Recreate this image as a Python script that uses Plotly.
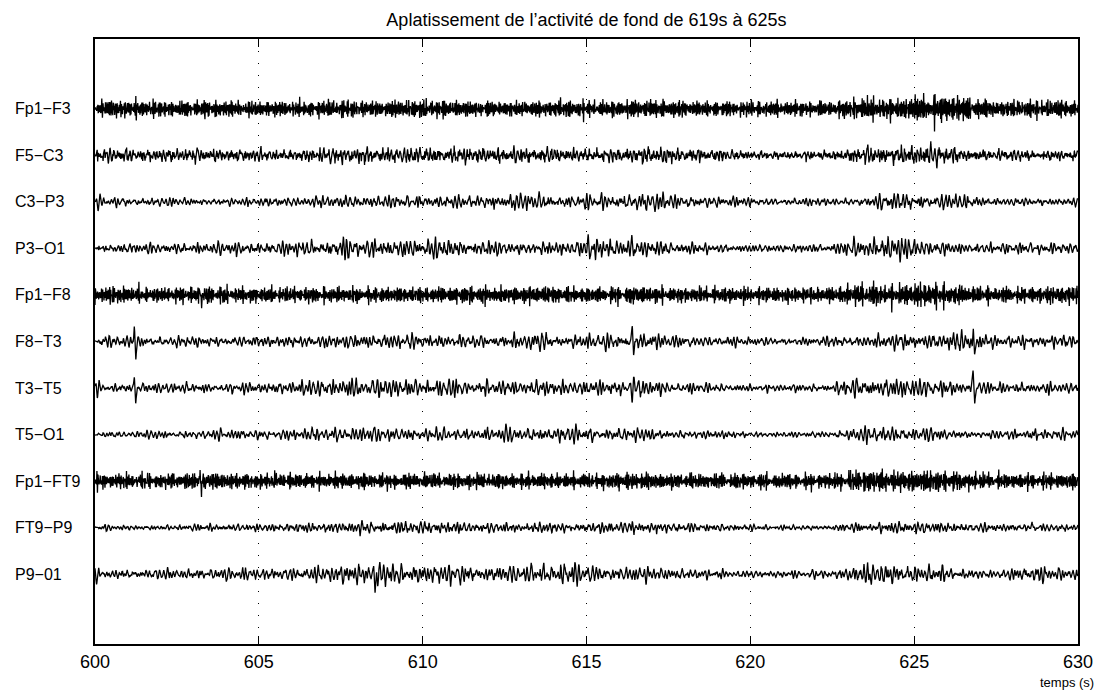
import numpy as np
import plotly.graph_objects as go

# ---------------- data ----------------
CHANNELS = ["Fp1−F3", "F5−C3", "C3−P3", "P3−O1", "Fp1−F8", "F8−T3",
            "T3−T5", "T5−O1", "Fp1−FT9", "FT9−P9", "P9−01"]

TITLE = "Aplatissement de l’activité de fond de 619s à 625s"
X_LABEL = "temps (s)"
T_START, T_END = 600, 630
X_TICKS = [600, 605, 610, 615, 620, 625, 630]
FS = 256  # samples per second

# half-amplitude of each trace (pixels), one value per second 600..629
ENV_FP1_F3 = [7, 7, 6, 7, 6, 6, 6, 7, 6, 7, 7, 6, 6, 6, 7, 6, 7, 7, 6, 6, 6, 6, 6, 9, 8, 11, 10, 6, 7, 7]
ENV_F5_C3 = [5, 5, 5, 5, 5, 4, 5, 6, 6, 6, 6, 6, 6, 6, 5, 5, 6, 6, 5, 4, 3, 3, 4, 6, 7, 8, 5, 4, 4, 4]
ENV_C3_P3 = [4, 4, 3, 3, 3, 4, 4, 5, 5, 5, 5, 5, 6, 7, 5, 6, 8, 6, 5, 4, 3, 3, 3, 4, 7, 6, 6, 3, 3, 3]
ENV_P3_O1 = [4, 4, 4, 5, 5, 5, 6, 8, 7, 7, 8, 6, 5, 5, 5, 9, 7, 6, 4, 3, 3, 3, 4, 8, 10, 6, 4, 4, 5, 4]
ENV_FP1_F8 = [7, 6, 6, 7, 6, 6, 6, 6, 6, 6, 6, 7, 6, 7, 6, 6, 7, 6, 6, 6, 6, 6, 6, 9, 8, 10, 7, 6, 6, 7]
ENV_F8_T3 = [4, 5, 4, 4, 4, 4, 5, 5, 6, 6, 5, 5, 5, 7, 5, 6, 8, 5, 4, 4, 3, 3, 4, 5, 6, 6, 8, 5, 5, 5]
ENV_T3_T5 = [4, 4, 4, 4, 4, 5, 6, 8, 8, 7, 8, 6, 6, 6, 6, 6, 8, 5, 4, 3, 3, 3, 4, 8, 8, 7, 6, 4, 5, 4]
ENV_T5_O1 = [3, 3, 3, 4, 4, 4, 5, 6, 6, 5, 5, 5, 6, 6, 6, 6, 5, 4, 3, 3, 2, 2, 3, 6, 7, 5, 3, 3, 5, 4]
ENV_FP1_FT9 = [6, 6, 6, 7, 6, 6, 6, 6, 6, 6, 6, 6, 6, 6, 6, 6, 7, 6, 6, 6, 6, 6, 6, 9, 8, 9, 7, 6, 6, 6]
ENV_FT9_P9 = [2, 2, 2, 3, 3, 3, 4, 4, 5, 5, 5, 4, 4, 4, 4, 4, 5, 4, 3, 3, 2, 2, 2, 4, 5, 4, 4, 3, 3, 3]
ENV_P9_01 = [4, 4, 4, 5, 5, 5, 5, 8, 9, 8, 8, 7, 6, 8, 9, 6, 6, 5, 4, 3, 3, 3, 4, 8, 8, 7, 4, 3, 7, 5]

# share of fast (beta / muscle) activity in each channel
FAST_SHARE = [0.85, 0.4, 0.18, 0.18, 0.85, 0.18, 0.15, 0.15, 0.8, 0.22, 0.18]

# sharp transients: channel index, time (s), upward and downward deflection (px)
SPIKE_CHANNEL = [5, 6, 5, 6, 10, 10, 3, 9, 8, 4, 6, 5, 3]
SPIKE_TIME = [601.2, 601.2, 626.8, 626.8, 608.5, 613.7, 615.05, 628.6, 603.2, 603.2, 616.6, 616.4, 607.6]
SPIKE_UP = [18, 12, 13, 20, 6, 12, 9, 7, 8, 4, 8, 7, 8]
SPIKE_DOWN = [17, 15, 19, 16, 17, 5, 10, 3, 10, 9, 6, 6, 8]

# oscillation bands used to draw the fine texture of the traces (Hz, incommensurate)
SLOW_FREQS = [3.137, 4.719, 5.923, 6.841, 7.577, 8.263, 8.951, 9.683, 10.617, 11.329, 12.571, 14.233]
FAST_FREQS = [16.913, 19.437, 22.741, 25.289, 28.853, 31.937, 35.611, 39.127, 43.709]

ENVELOPES = [ENV_FP1_F3, ENV_F5_C3, ENV_C3_P3, ENV_P3_O1, ENV_FP1_F8, ENV_F8_T3,
             ENV_T3_T5, ENV_T5_O1, ENV_FP1_FT9, ENV_FT9_P9, ENV_P9_01]

# ---------------- geometry ----------------
# the page body adds an 8 px offset, so the figure is 8 px smaller and margins shift
FIG_W, FIG_H = 1100, 683
M_L, M_R, M_T, M_B = 87, 30, 31, 47
PLOT_H = FIG_H - M_T - M_B
Y_RANGE = [-11.5, 1.5]
PX_PER_UNIT = PLOT_H / (Y_RANGE[1] - Y_RANGE[0])

t = T_START + np.arange(0, (T_END - T_START) * FS + 1) / FS
tt = t - T_START
env_t = np.arange(T_START, T_END) + 0.5

fig = go.Figure()
for c, name in enumerate(CHANNELS):
    slow = np.zeros_like(t)
    for k, f in enumerate(SLOW_FREQS):
        fk = f * (1 + 0.0137 * ((c * 7 + k * 3) % 5 - 2))
        ph = (k * 2.399 + c * 1.618 * (k + 1)) % (2 * np.pi)
        wk = 1.0 + 0.3 * ((k + c) % 3) + (0.6 if 6.5 < f < 11 else 0.0)
        slow += np.sin(2 * np.pi * fk * tt + ph) * wk
    fast = np.zeros_like(t)
    for k, f in enumerate(FAST_FREQS):
        fk = f * (1 + 0.0113 * ((c * 5 + k * 2) % 7 - 3))
        ph = (k * 1.913 + c * 2.718 * (k + 1)) % (2 * np.pi)
        fast += np.sin(2 * np.pi * fk * tt + ph)
    slow /= slow.std()
    fast /= fast.std()
    w = FAST_SHARE[c]
    sig = (1 - w) * slow + w * fast
    sig /= sig.std()
    env = np.interp(t, env_t, ENVELOPES[c])
    sig = sig * env / 1.8
    for ch, ts, up, dn in zip(SPIKE_CHANNEL, SPIKE_TIME, SPIKE_UP, SPIKE_DOWN):
        if ch == c:
            sig += up * np.exp(-((t - ts) / 0.018) ** 2)
            sig -= dn * np.exp(-((t - ts - 0.045) / 0.022) ** 2)
    y = -c + sig / PX_PER_UNIT
    fig.add_trace(go.Scatter(x=t, y=y, mode="lines", name=name,
                             line=dict(color="black", width=1.3),
                             hoverinfo="skip", showlegend=False))

FONT = "Liberation Sans, Arial, Helvetica, sans-serif"
PLOT_W = FIG_W - M_L - M_R

annotations = []
for c, name in enumerate(CHANNELS):
    annotations.append(dict(text=name, xref="paper", yref="y", x=(5.3 - M_L) / PLOT_W, y=-c,
                            xanchor="left", yanchor="middle", showarrow=False,
                            font=dict(family=FONT, size=16, color="black")))
annotations.append(dict(text=X_LABEL, xref="paper", yref="paper",
                        x=(1059 - M_L) / PLOT_W, y=-(674 - (FIG_H - M_B)) / PLOT_H,
                        xanchor="center", yanchor="middle", showarrow=False,
                        font=dict(family=FONT, size=13, color="black")))

fig.update_layout(
    width=FIG_W, height=FIG_H,
    margin=dict(l=M_L, r=M_R, t=M_T, b=M_B),
    paper_bgcolor="white", plot_bgcolor="white",
    title=dict(text=TITLE, x=(M_L + PLOT_W / 2) / FIG_W, xanchor="center",
               y=1 - 12 / FIG_H, yanchor="middle",
               font=dict(family=FONT, size=18, color="black")),
    annotations=annotations,
    xaxis=dict(range=[T_START, T_END], tickvals=X_TICKS, ticktext=[str(v) for v in X_TICKS],
               ticks="inside", ticklen=8, tickwidth=1, tickcolor="black",
               showline=True, linewidth=2, linecolor="black", mirror="ticks",
               showgrid=True, gridcolor="black", gridwidth=1, griddash="1px,11px",
               zeroline=False, tickfont=dict(family=FONT, size=18, color="black")),
    yaxis=dict(range=Y_RANGE, showticklabels=False, ticks="", showgrid=False,
               showline=True, linewidth=2, linecolor="black", mirror=True,
               zeroline=False),
)

fig.write_html("out.html")
